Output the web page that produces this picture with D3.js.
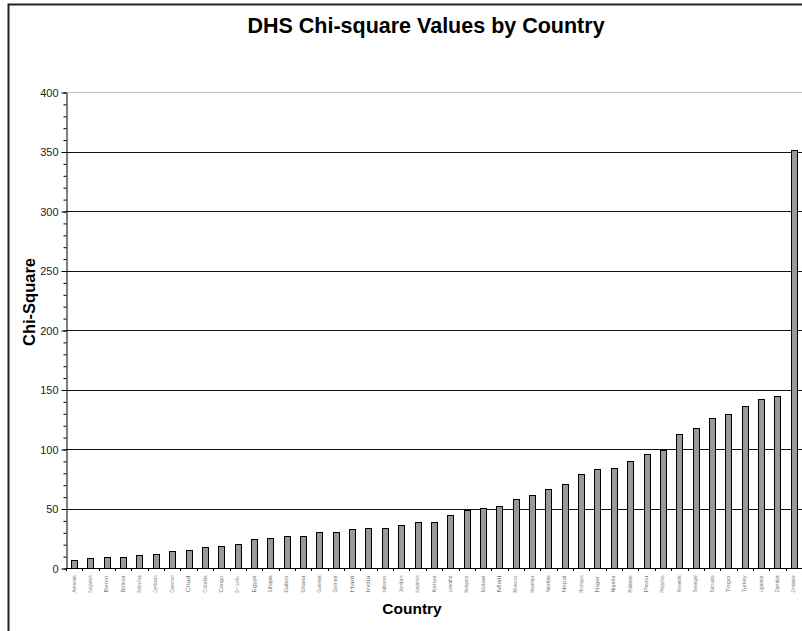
<!DOCTYPE html>
<html>
<head>
<meta charset="utf-8">
<script src="https://cdn.jsdelivr.net/npm/d3@7"></script>
<style>
  body { margin: 0; background: #fff; }
  svg { display: block; font-family: Arial, "Liberation Sans", sans-serif; }
</style>
</head>
<body>
<div class="chart"></div>
<script>
// ------------------------------------------------------------------------------------------------------------------
// Data (sorted ascending)
var countries = ["Armenia","Bangladesh","Benin","Bolivia","Burkina Faso","Cambodia","Cameroon","Chad","Colombia",
  "Congo","Dominican Rep.","Egypt","Ethiopia","Gabon","Ghana","Guatemala","Guinea","Haiti","India","Indonesia",
  "Jordan","Kazakhstan","Kenya","Lesotho","Madagascar","Malawi","Mali","Morocco","Mozambique","Namibia","Nepal",
  "Nicaragua","Niger","Nigeria","Pakistan","Peru","Philippines","Rwanda","Senegal","Tanzania","Togo","Turkey",
  "Uganda","Zambia","Zimbabwe"];
var chiValues = [6.5, 8.5, 9.3, 9.3, 11, 12, 14.5, 15, 18, 18.5, 20, 24, 25, 26.5, 26.5, 30, 30, 33, 33.5, 33.5,
  36.5, 38.5, 39, 44.4, 48.6, 50.3, 51.9, 57.8, 61.1, 66.7, 70.4, 79, 82.9, 84.3, 90.1, 95.5, 99.1, 112.2,
  117.3, 126.1, 129, 135.9, 141.8, 144.3, 351.5];
var yTicks = [0, 50, 100, 150, 200, 250, 300, 350, 400];
var yMinorTicks = d3.range(0, 401, 10);

// ------------------------------------------------------------------------------------------------------------------
// Global var
var width = 802, height = 631;
var plotLeft = 66, plotRight = 802, plotTop = 92, plotBottom = 568;

var svg = d3.select(".chart").append("svg")
  .attr("width", width)
  .attr("height", height);

// outer frame
svg.append("rect")
  .attr("x", 8.5).attr("y", 4.5)
  .attr("width", width + 10).attr("height", height + 10)
  .attr("fill", "none")
  .attr("stroke", "#222")
  .attr("stroke-width", 2);

var x = d3.scaleBand()
  .domain(countries)
  .range([plotLeft, plotRight])
  .paddingInner(0.62)
  .paddingOuter(0.31);

var y = d3.scaleLinear()
  .domain([0, 400])
  .range([plotBottom, plotTop]);

// ------------------------------------------------------------------------------------------------------------------
// Grid lines
svg.append("g").selectAll("line")
  .data(yTicks.filter(function(d) { return d > 0; }))
  .enter().append("line")
  .attr("x1", plotLeft).attr("x2", plotRight)
  .attr("y1", function(d) { return Math.round(y(d)) + 0.5; })
  .attr("y2", function(d) { return Math.round(y(d)) + 0.5; })
  .attr("stroke", function(d) { return d == 400 ? "#c0c0c0" : "#111"; })
  .attr("stroke-width", 1);

// ------------------------------------------------------------------------------------------------------------------
// Bars
svg.append("g").selectAll("rect")
  .data(chiValues)
  .enter().append("rect")
  .attr("x", function(d, i) { return Math.round(x(countries[i])) + 0.5; })
  .attr("y", function(d) { return Math.round(y(d)) + 0.5; })
  .attr("width", Math.round(x.bandwidth()))
  .attr("height", function(d) { return Math.round(y(0)) - Math.round(y(d)); })
  .attr("fill", "#999999")
  .attr("stroke", "#000")
  .attr("stroke-width", 1);

// ------------------------------------------------------------------------------------------------------------------
// Y axis (minor ticks first, then major axis)
svg.append("g")
  .attr("transform", "translate(" + (plotLeft + 0.5) + ",0.5)")
  .call(d3.axisLeft(y).tickValues(yMinorTicks).tickSize(3).tickFormat(""))
  .call(function(g) { g.select(".domain").remove(); });

var yAxis = svg.append("g")
  .attr("transform", "translate(" + (plotLeft + 0.5) + ",0.5)")
  .call(d3.axisLeft(y).tickValues(yTicks).tickSize(5).tickSizeOuter(0).tickPadding(3));
yAxis.selectAll("text").attr("font-size", "11px").attr("fill", "#222").attr("font-family", "Arial, 'Liberation Sans', sans-serif");
yAxis.select(".domain").attr("stroke", "#000");

// ------------------------------------------------------------------------------------------------------------------
// X axis: baseline, small ticks between bars, tiny vertical labels
svg.append("line")
  .attr("x1", plotLeft).attr("x2", plotRight)
  .attr("y1", plotBottom + 0.5).attr("y2", plotBottom + 0.5)
  .attr("stroke", "#000");

var step = x.step();
svg.append("g").selectAll("line")
  .data(countries)
  .enter().append("line")
  .attr("x1", function(d) { return Math.round(x(d) - (step - x.bandwidth()) / 2) + 0.5; })
  .attr("x2", function(d) { return Math.round(x(d) - (step - x.bandwidth()) / 2) + 0.5; })
  .attr("y1", plotBottom).attr("y2", plotBottom + 3)
  .attr("stroke", "#000");

svg.append("g").selectAll("text")
  .data(countries)
  .enter().append("text")
  .attr("transform", function(d) { return "translate(" + (x(d) + x.bandwidth() / 2 + 1.5) + "," + 584 + ") rotate(-90)"; })
  .attr("text-anchor", "middle")
  .attr("textLength", 17)
  .attr("lengthAdjust", "spacingAndGlyphs")
  .attr("font-size", "5px")
  .attr("fill", "#777")
  .text(function(d) { return d; });

// ------------------------------------------------------------------------------------------------------------------
// Titles
svg.append("text")
  .attr("x", 426).attr("y", 33)
  .attr("text-anchor", "middle")
  .attr("font-size", "21.5px")
  .attr("font-weight", "bold")
  .text("DHS Chi-square Values by Country");

svg.append("text")
  .attr("x", 412).attr("y", 614)
  .attr("text-anchor", "middle")
  .attr("font-size", "15.5px")
  .attr("font-weight", "bold")
  .text("Country");

svg.append("text")
  .attr("transform", "translate(35,302) rotate(-90)")
  .attr("text-anchor", "middle")
  .attr("font-size", "16.5px")
  .attr("font-weight", "bold")
  .text("Chi-Square");
</script>
</body>
</html>
